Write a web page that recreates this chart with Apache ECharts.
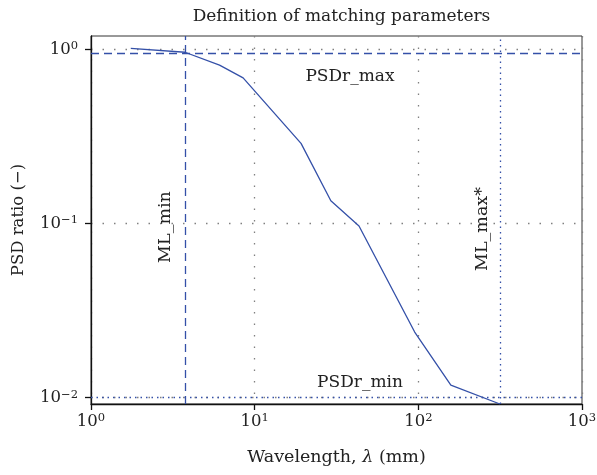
<!DOCTYPE html>
<html>
<head>
<meta charset="utf-8">
<script src="https://cdn.jsdelivr.net/npm/echarts@6/dist/echarts.min.js"></script>
<style>html,body{margin:0;padding:0;background:#fff}#c{width:597px;height:475px}</style>
</head>
<body>
<div id="c"></div>
<script>
// ---- data ----
const wavelength = [1.75, 3.75, 6.1, 8.5, 19.2, 29.2, 43.4, 95, 158, 315];
const psdRatio   = [1.01, 0.96, 0.81, 0.684, 0.288, 0.135, 0.0966, 0.0238, 0.0118, 0.0092];
const xTickValues = [1, 10, 100, 1000];
const yTickValues = [0.01, 0.1, 1];
const psdrMax = 0.952;   // horizontal dashed line
const psdrMin = 0.0093;  // horizontal dotted line
const mlMin = 3.75;      // vertical dashed line
const mlMax = 315;       // vertical dotted line
const titleText = 'Definition of matching parameters';
const xName = 'Wavelength, {i|λ} (mm)';
const yName = 'PSD ratio (−)';

const FONT = 'DejaVu Serif';
const BLUE = '#3450a8';
const TXT = '#222';
function powLabel(v) {
  const e = Math.round(Math.log10(v));
  if (Math.abs(Math.log10(v) - e) > 1e-6) return '';
  return '{b|10}{s|' + String(e).replace('-', '−') + '}';
}
const richTick = {
  b: {fontFamily: FONT, fontSize: 16.5, color: TXT, lineHeight: 18, verticalAlign: 'bottom'},
  s: {fontFamily: FONT, fontSize: 11.5, color: TXT, lineHeight: 12, padding: [0, 0, 9, 0], verticalAlign: 'top'}
};

const chart = echarts.init(document.getElementById('c'), null, {renderer: 'canvas'});
chart.setOption({
  animation: false,
  title: {
    text: titleText, left: 336.5, top: 3, textAlign: 'center',
    textStyle: {fontFamily: FONT, fontSize: 17, fontWeight: 'normal', color: TXT}
  },
  grid: {left: 91, right: 15, top: 36, bottom: 71, containLabel: false, outerBoundsMode: 'none',
    show: true, borderColor: '#333', borderWidth: 1},
  xAxis: {
    type: 'log', logBase: 10, min: 1, max: 1000,
    name: xName, nameLocation: 'middle', nameGap: 44,
    nameTextStyle: {fontFamily: FONT, fontSize: 17.5, color: TXT,
      rich: {i: {fontFamily: FONT, fontStyle: 'italic', fontSize: 17.5, color: TXT}}},
    axisLine: {show: true, onZero: false, lineStyle: {color: '#111', width: 1.3}},
    axisTick: {show: true, inside: false, length: 6, customValues: xTickValues, lineStyle: {color: '#111', width: 1.3}},
    axisLabel: {show: true, margin: 8, customValues: xTickValues, formatter: powLabel, rich: richTick},
    splitLine: {show: true, lineStyle: {color: '#808080', type: [1.5, 10], width: 1.3}},
    minorTick: {show: false}, minorSplitLine: {show: false}
  },
  yAxis: {
    type: 'log', logBase: 10, min: 0.0092, max: 1.19,
    name: yName, nameLocation: 'middle', nameGap: 64,
    nameTextStyle: {fontFamily: FONT, fontSize: 16.5, color: TXT},
    axisLine: {show: true, onZero: false, lineStyle: {color: '#111', width: 1.3}},
    axisTick: {show: true, inside: false, length: 6, customValues: yTickValues, lineStyle: {color: '#111', width: 1.3}},
    axisLabel: {show: true, margin: 13, customValues: yTickValues, formatter: powLabel, rich: richTick},
    splitLine: {show: true, lineStyle: {color: '#808080', type: [1.5, 10], width: 1.3}},
    minorTick: {show: false}, minorSplitLine: {show: false}
  },
  series: [{
    type: 'line',
    data: wavelength.map((x, i) => [x, psdRatio[i]]),
    showSymbol: false, symbol: 'none',
    lineStyle: {color: BLUE, width: 1.3},
    clip: false,
    markLine: {
      silent: true, symbol: 'none', label: {show: false},
      data: [
        {yAxis: psdrMax, lineStyle: {type: [8, 5], color: BLUE, width: 1.3}},
        {xAxis: mlMin, lineStyle: {type: [8, 5], color: BLUE, width: 1.3}},
        {yAxis: psdrMin, lineStyle: {type: [1.5, 4], color: BLUE, width: 1.3}},
        {xAxis: mlMax, lineStyle: {type: [1.5, 4], color: BLUE, width: 1.3}}
      ]
    }
  }],
  graphic: [
    {type: 'text', x: 350, y: 77, style: {text: 'PSDr_max', fontFamily: FONT, fontSize: 17, fill: TXT, align: 'center', verticalAlign: 'middle'}},
    {type: 'text', x: 360, y: 383, style: {text: 'PSDr_min', fontFamily: FONT, fontSize: 17, fill: TXT, align: 'center', verticalAlign: 'middle'}},
    {type: 'text', x: 165, y: 227, rotation: Math.PI / 2, style: {text: 'ML_min', fontFamily: FONT, fontSize: 17.5, fill: TXT, align: 'center', verticalAlign: 'middle'}},
    {type: 'text', x: 482, y: 229, rotation: Math.PI / 2, style: {text: 'ML_max*', fontFamily: FONT, fontSize: 17.5, fill: TXT, align: 'center', verticalAlign: 'middle'}}
  ]
});
</script>
</body>
</html>
